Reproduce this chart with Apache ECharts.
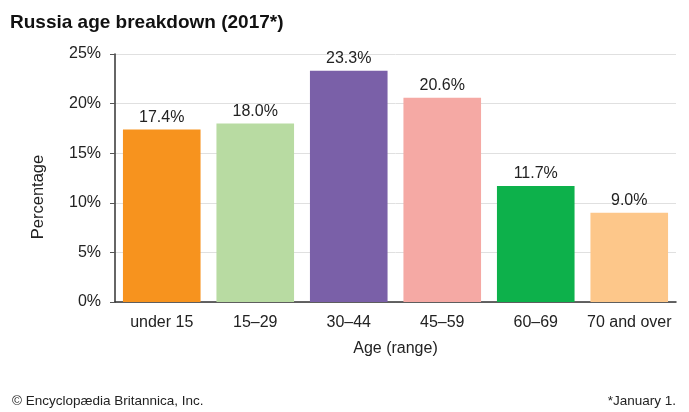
<!DOCTYPE html>
<html><head><meta charset="utf-8">
<script src="https://cdn.jsdelivr.net/npm/echarts@6/dist/echarts.min.js"></script>
<style>html,body{margin:0;padding:0;background:#fff}#c{width:689px;height:412px}</style>
</head><body><div id="c"></div>
<script>
const categories = ["under 15", "15\u201329", "30\u201344", "45\u201359", "60\u201369", "70 and over"];
const values = [17.4, 18.0, 23.3, 20.6, 11.7, 9.0];
const colors = ["#F7931E", "#B8DBA2", "#7A60A8", "#F5A9A4", "#0DB14B", "#FDC78A"];
const yTicks = [0, 5, 10, 15, 20, 25];

const font = "Liberation Sans, Arial, sans-serif";
const chart = echarts.init(document.getElementById('c'));
chart.setOption({
  animation: false,
  textStyle: { fontFamily: font },
  title: [
    { text: "Russia age breakdown (2017*)", left: 5, top: 8,
      textStyle: { fontFamily: font, fontSize: 19, fontWeight: 'bold', color: '#111' } },
    { text: "\u00A9 Encyclop\u00E6dia Britannica, Inc.", left: 7, top: 389,
      textStyle: { fontFamily: font, fontSize: 13.5, fontWeight: 'normal', color: '#222' } },
    { text: "*January 1.", right: 8, top: 389,
      textStyle: { fontFamily: font, fontSize: 13.5, fontWeight: 'normal', color: '#222' } }
  ],
  graphic: [{
    type: 'text', x: 38, y: 197, rotation: Math.PI / 2,
    style: { text: "Percentage", font: "16.5px " + font, fill: '#222', align: 'center', verticalAlign: 'middle' }
  }],
  grid: { left: 115, right: 13, top: 54, bottom: 110, containLabel: false },
  xAxis: {
    type: 'category', data: categories,
    name: "Age (range)", nameLocation: 'middle', nameGap: 39,
    nameTextStyle: { fontSize: 16, color: '#222' },
    axisLine: { lineStyle: { color: '#333', width: 1.5 } },
    axisTick: { show: false },
    axisLabel: { fontSize: 16, color: '#222', margin: 13, interval: 0 }
  },
  yAxis: {
    type: 'value', min: 0, max: 25, interval: 5,
    axisLine: { show: true, lineStyle: { color: '#333', width: 1.5 } },
    axisTick: { show: true, length: 5, lineStyle: { color: '#555' } },
    splitLine: { show: true, lineStyle: { color: '#e0e0e0' } },
    axisLabel: { fontSize: 16, color: '#222', margin: 14,
      formatter: v => yTicks.includes(v) ? v + '%' : '' }
  },
  series: [{
    type: 'bar', barCategoryGap: '17%',
    data: values.map((v, i) => ({ value: v, itemStyle: { color: colors[i] } })),
    label: { show: true, position: 'top', distance: 4, fontSize: 16, color: '#222',
      formatter: p => p.value.toFixed(1) + '%' }
  }]
});
</script></body></html>
